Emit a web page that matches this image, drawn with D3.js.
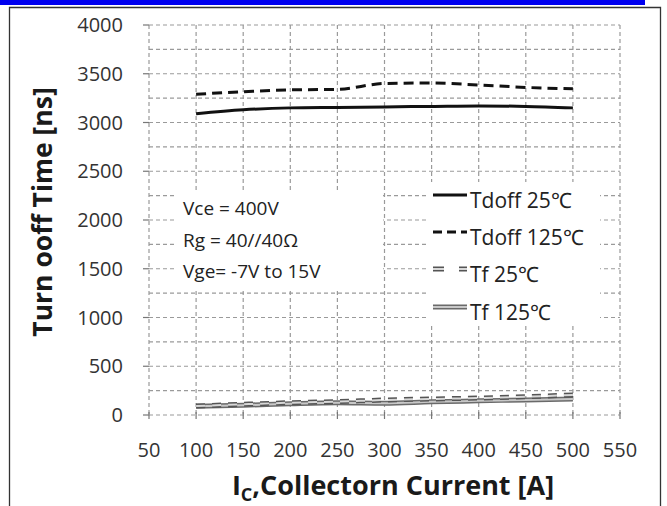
<!DOCTYPE html>
<html><head><meta charset="utf-8">
<script src="https://cdn.jsdelivr.net/npm/d3@7"></script>
<style>body{margin:0;background:#fff}svg{display:block}</style>
</head><body><svg id="c" width="667" height="506"></svg>
<script>
const currents = [100,150,200,250,300,350,400,450,500];
const tdoff25  = [3090,3130,3150,3155,3160,3165,3170,3165,3150];
const tdoff125 = [3290,3315,3335,3340,3400,3405,3385,3360,3345];
const tf25     = [92,110,126,137,154,164,174,188,205];
const tf125    = [90,100,115,125,120,135,145,155,165];
const xTicks = [50,100,150,200,250,300,350,400,450,500,550];
const yTicks = [0,500,1000,1500,2000,2500,3000,3500,4000];
const yGrid = d3.range(0,4001,250);
const seriesNames = ["Tdoff 25℃","Tdoff 125℃","Tf 25℃","Tf 125℃"];
const notes = ["Vce = 400V","Rg = 40//40Ω","Vge= -7V to 15V"];

const svg = d3.select("#c");
const x = d3.scaleLinear().domain([50,550]).range([149,620]);
const y = d3.scaleLinear().domain([0,4000]).range([415,25]);

// frame
svg.append("rect").attr("x",0).attr("y",0).attr("width",645).attr("height",5).attr("fill","#0000f0");
svg.append("path").attr("d","M9.5,506 V7.5 H660.5 V506").attr("fill","none").attr("stroke","#333").attr("stroke-width",1.3);

const font = "'Open Sans', sans-serif";
const grid = svg.append("g").attr("stroke","#9a9a9a").attr("stroke-width",1.2).attr("stroke-dasharray","4,3");
yGrid.forEach(v=>grid.append("line").attr("x1",x(50)).attr("x2",x(550)).attr("y1",y(v)).attr("y2",y(v)));
xTicks.forEach(v=>grid.append("line").attr("x1",x(v)).attr("x2",x(v)).attr("y1",y(4000)).attr("y2",y(0)));
// tick marks
const tk = svg.append("g").attr("stroke","#777").attr("stroke-width",1.2);
yTicks.forEach(v=>tk.append("line").attr("x1",x(50)-6).attr("x2",x(50)).attr("y1",y(v)).attr("y2",y(v)));
xTicks.forEach(v=>tk.append("line").attr("x1",x(v)).attr("x2",x(v)).attr("y1",y(0)-3).attr("y2",y(0)+4));

// tick labels
svg.append("g").selectAll("text").data(yTicks).join("text")
  .attr("x",123).attr("y",d=>y(d)).attr("dy","0.35em").attr("text-anchor","end")
  .attr("font-family",font).attr("font-size",20).attr("fill","#333").text(d=>d);
svg.append("g").selectAll("text").data(xTicks).join("text")
  .attr("x",d=>x(d)).attr("y",457).attr("text-anchor","middle")
  .attr("font-family",font).attr("font-size",20).attr("fill","#333").text(d=>d);

// titles
svg.append("text").attr("transform","translate(52,212) rotate(-90)").attr("text-anchor","middle")
  .attr("font-family",font).attr("font-weight","bold").attr("font-size",26.5).attr("fill","#1a1a1a")
  .text("Turn ooff Time [ns]");
const xt = svg.append("text").attr("x",393).attr("y",495).attr("text-anchor","middle")
  .attr("font-family",font).attr("font-weight","bold").attr("font-size",27).attr("fill","#1a1a1a");
xt.append("tspan").text("I");
xt.append("tspan").attr("font-size",18).attr("dy",6).text("C");
xt.append("tspan").attr("dy",-6).text(",Collectorn Current [A]");

// lines
const line = d3.line().x((d,i)=>x(currents[i])).y(d=>y(d)).curve(d3.curveMonotoneX);
const plot = svg.append("g").attr("fill","none");
plot.append("path").attr("d",line(tf125)).attr("stroke","#6a6a6a").attr("stroke-width",5);
plot.append("path").attr("d",line(tf125)).attr("stroke","#c8c8c8").attr("stroke-width",2);
plot.append("path").attr("d",line(tf25)).attr("stroke","#555").attr("stroke-width",5).attr("stroke-dasharray","9,7");
plot.append("path").attr("d",line(tf25)).attr("stroke","#d8d8d8").attr("stroke-width",2).attr("stroke-dasharray","9,7");
plot.append("path").attr("d",line(tdoff25)).attr("stroke","#111").attr("stroke-width",3);
plot.append("path").attr("d",line(tdoff125)).attr("stroke","#111").attr("stroke-width",3).attr("stroke-dasharray","10,6");

// annotation
svg.append("rect").attr("x",177).attr("y",190).attr("width",206).attr("height",100).attr("fill","#fff");
svg.append("g").selectAll("text").data(notes).join("text")
  .attr("x",183).attr("y",(d,i)=>[208,240,271][i]).attr("dy","0.35em")
  .attr("font-family",font).attr("font-size",19).attr("fill","#222").text(d=>d);

// legend
svg.append("rect").attr("x",428).attr("y",182).attr("width",172).attr("height",144).attr("fill","#fff");
const ly = [195,232,269,307];
const lg = svg.append("g");
const lx1=433, lx2=467;
lg.append("line").attr("x1",lx1).attr("x2",lx2).attr("y1",ly[0]).attr("y2",ly[0]).attr("stroke","#111").attr("stroke-width",3);
lg.append("line").attr("x1",lx1).attr("x2",lx2).attr("y1",ly[1]).attr("y2",ly[1]).attr("stroke","#111").attr("stroke-width",3).attr("stroke-dasharray","9,5");
lg.append("line").attr("x1",lx1).attr("x2",lx2).attr("y1",ly[2]).attr("y2",ly[2]).attr("stroke","#555").attr("stroke-width",5).attr("stroke-dasharray","11,15");
lg.append("line").attr("x1",lx1).attr("x2",lx2).attr("y1",ly[2]).attr("y2",ly[2]).attr("stroke","#d8d8d8").attr("stroke-width",2).attr("stroke-dasharray","11,15");
lg.append("line").attr("x1",lx1).attr("x2",lx2).attr("y1",ly[3]).attr("y2",ly[3]).attr("stroke","#6a6a6a").attr("stroke-width",5);
lg.append("line").attr("x1",lx1).attr("x2",lx2).attr("y1",ly[3]).attr("y2",ly[3]).attr("stroke","#c8c8c8").attr("stroke-width",2);
lg.selectAll("text").data(seriesNames).join("text")
  .attr("x",470).attr("y",(d,i)=>ly[i]+6).attr("dy","0.35em")
  .attr("font-family",font).attr("font-size",21).attr("fill","#222").text(d=>d);
</script></body></html>
